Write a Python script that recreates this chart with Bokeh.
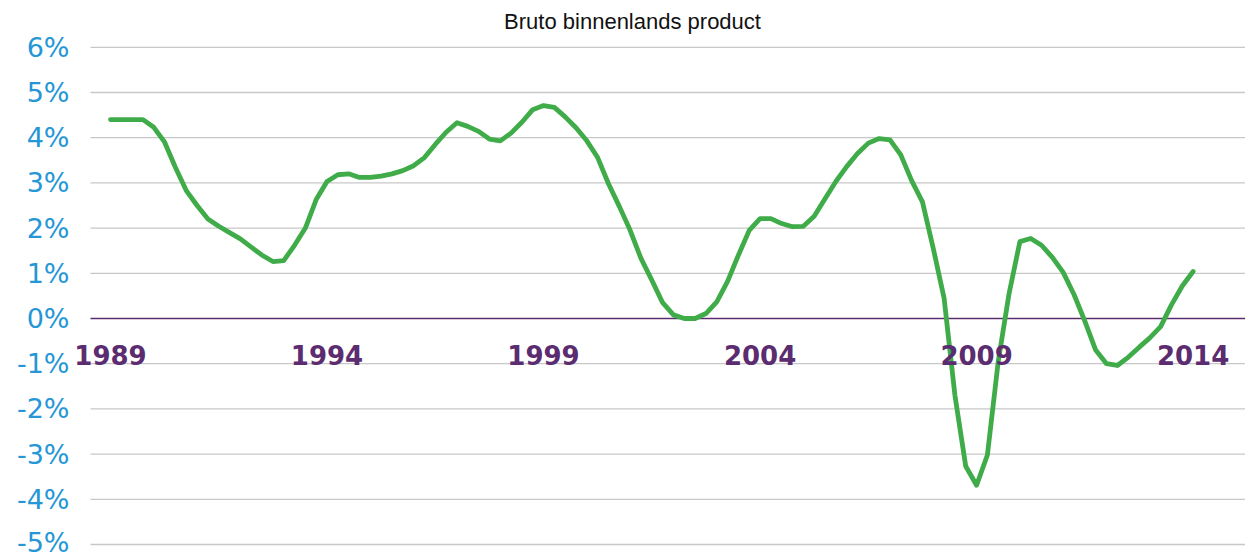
from bokeh.plotting import figure
from bokeh.models import (LinearAxis, FixedTicker, Range1d, CustomJSTickFormatter,
                          Label, ColumnDataSource)
from bokeh.embed import file_html
from bokeh.resources import INLINE

title_text = "Bruto binnenlands product"
start_year = 1989
year_ticks = [1989, 1994, 1999, 2004, 2009, 2014]
pct_ticks = [-5, -4, -3, -2, -1, 0, 1, 2, 3, 4, 5, 6]

# quarterly growth (%), 1989Q1 .. 2014Q1
bbp = [4.40, 4.40, 4.40, 4.40, 4.23, 3.90, 3.34, 2.83, 2.50, 2.20,
       2.04, 1.90, 1.76, 1.58, 1.40, 1.26, 1.28, 1.62, 2.00, 2.63,
       3.03, 3.18, 3.20, 3.12, 3.12, 3.15, 3.20, 3.27, 3.38, 3.56,
       3.85, 4.12, 4.33, 4.25, 4.14, 3.97, 3.93, 4.10, 4.34, 4.62,
       4.71, 4.67, 4.46, 4.22, 3.93, 3.56, 2.98, 2.48, 1.95, 1.33,
       0.85, 0.35, 0.08, 0.00, 0.00, 0.11, 0.37, 0.82, 1.40, 1.95,
       2.21, 2.21, 2.10, 2.03, 2.04, 2.26, 2.65, 3.03, 3.36, 3.65,
       3.88, 3.98, 3.95, 3.62, 3.05, 2.58, 1.55, 0.45, -1.70, -3.27,
       -3.69, -3.02, -0.95, 0.55, 1.70, 1.77, 1.62, 1.35, 1.02, 0.53,
       -0.06, -0.70, -1.00, -1.04, -0.86, -0.64, -0.43, -0.18, 0.30, 0.72,
       1.04]
quarters = [start_year + 0.25 * i for i in range(len(bbp))]

X_START, X_END = 1986.46, 2015.21
Y_START, Y_END = -5.288, 7.035
PLOT_LEFT = 1988.538   # where the value axis / grid begins

src = ColumnDataSource(dict(x=quarters, y=bbp))

p = figure(width=1245, height=557, output_backend="svg", toolbar_location=None,
           x_range=Range1d(X_START, X_END), y_range=Range1d(Y_START, Y_END),
           x_axis_location=None, y_axis_location=None,
           min_border_left=0, min_border_right=0,
           min_border_top=0, min_border_bottom=0)
p.outline_line_color = None
p.background_fill_color = "white"
p.border_fill_color = "white"
p.xgrid.visible = False
p.ygrid.visible = False

# grid lines starting at the value axis
grid_y = [t for t in pct_ticks if t != 0]
p.segment(x0=[PLOT_LEFT] * len(grid_y), y0=grid_y,
          x1=[X_END] * len(grid_y), y1=grid_y,
          line_color="#c8c8c8", line_width=1.3)
# zero line
p.segment(x0=[PLOT_LEFT], y0=[0], x1=[X_END], y1=[0],
          line_color="#5b2c6f", line_width=1.5)

# y axis
yax = LinearAxis(fixed_location=PLOT_LEFT, ticker=FixedTicker(ticks=pct_ticks))
yax.formatter = CustomJSTickFormatter(code="return tick + '%';")
yax.axis_line_color = None
yax.major_tick_line_color = None
yax.minor_tick_line_color = None
yax.major_label_standoff = 15
yax.major_label_text_font = "DejaVu Sans"
yax.major_label_text_font_size = "27px"
yax.major_label_text_color = "#2596d6"
p.add_layout(yax, "left")

# x axis on zero line
xax = LinearAxis(fixed_location=0, ticker=FixedTicker(ticks=year_ticks))
xax.axis_line_color = None
xax.major_tick_line_color = None
xax.minor_tick_line_color = None
xax.major_label_standoff = 21
xax.major_label_text_font = "DejaVu Sans"
xax.major_label_text_font_style = "bold"
xax.major_label_text_font_size = "26px"
xax.major_label_text_color = "#5b2c6f"
p.add_layout(xax, "below")

p.line("x", "y", source=src, line_color="#3fac49", line_width=4.8,
       line_join="round", line_cap="round")

p.add_layout(Label(x=2001.055, y=6.571, text=title_text, text_align="center",
                   text_baseline="middle", text_font="Liberation Sans",
                   text_font_size="22px", text_color="#111111"))

open("out.html", "w").write(file_html(p, INLINE))
